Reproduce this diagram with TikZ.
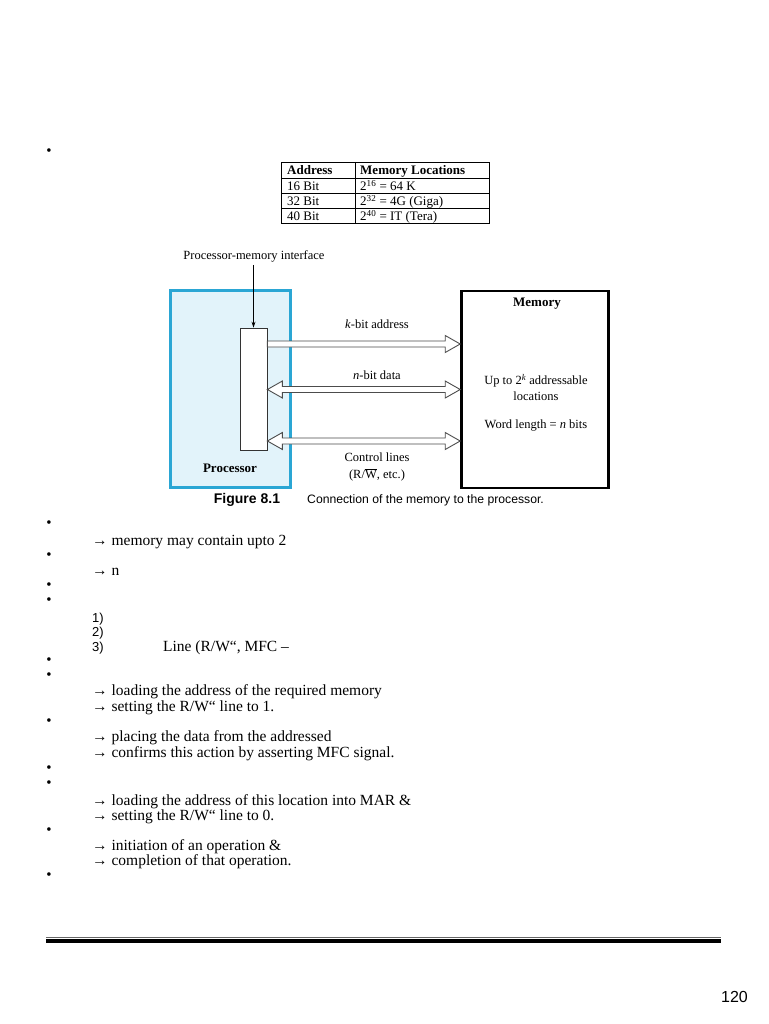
\documentclass[tikz,border=0pt]{standalone}
\usepackage{fontspec}
\setmainfont{Liberation Serif}
\newfontfamily\arialf{Liberation Sans}
\usetikzlibrary{calc,arrows.meta}
\definecolor{procblue}{HTML}{2AA6D4}
\definecolor{proclight}{HTML}{E2F3FA}
\newcommand{\hollowone}[3]{%
\draw[hol] ($(#1.east |- 0,#3)+(0,-3)$) -- ($(#2.west |- 0,#3)+(-15,-3)$) -- ($(#2.west |- 0,#3)+(-15,-8.5)$) -- (#2.west |- 0,#3) -- ($(#2.west |- 0,#3)+(-15,8.5)$) -- ($(#2.west |- 0,#3)+(-15,3)$) -- ($(#1.east |- 0,#3)+(0,3)$) -- cycle;}
\newcommand{\hollowtwo}[3]{%
\draw[hol] (#1.east |- 0,#3) -- ($(#1.east |- 0,#3)+(15,-8.5)$) -- ($(#1.east |- 0,#3)+(15,-3)$) -- ($(#2.west |- 0,#3)+(-15,-3)$) -- ($(#2.west |- 0,#3)+(-15,-8.5)$) -- (#2.west |- 0,#3) -- ($(#2.west |- 0,#3)+(-15,8.5)$) -- ($(#2.west |- 0,#3)+(-15,3)$) -- ($(#1.east |- 0,#3)+(15,3)$) -- ($(#1.east |- 0,#3)+(15,8.5)$) -- cycle;}
\begin{document}
\begin{tikzpicture}[x=1pt,y=-1pt,
  body/.style={anchor=base west,inner sep=0,font=\fontsize{15.5}{18}\selectfont},
  num/.style={anchor=base west,inner sep=0,font=\arialf\fontsize{13}{15}\selectfont},
  bul/.style={inner sep=0,font=\fontsize{15}{16}\selectfont},
  tab/.style={anchor=base west,inner sep=0,font=\fontsize{13}{15}\selectfont},
  tabh/.style={tab,font=\bfseries\fontsize{13}{15}\selectfont},
  fig/.style={inner sep=0,font=\fontsize{12.5}{15}\selectfont},
  figb/.style={inner sep=0,font=\bfseries\fontsize{13}{15}\selectfont},
  procbox/.style={draw=procblue,line width=3pt,fill=proclight,inner sep=0},
  ifbox/.style={draw=black!80,fill=white,line width=0.8pt,inner sep=0},
  membox/.style={draw=black,line width=2.6pt,fill=white,inner sep=0},
  hol/.style={draw=black!70,fill=white,line width=0.9pt,line join=miter},
  tline/.style={line width=0.9pt,black}
]
\useasboundingbox (0,0) rectangle (768,1024);
\fill[white] (0,0) rectangle (768,1024);

% first bullet
\node[bul] (b0) at (49,152) {•};

% table
\draw[tline] (281,162) rectangle (489,223);
\draw[tline] (355,162) -- (355,223);
\draw[tline] (281,178) -- (489,178);
\draw[tline] (281,193) -- (489,193);
\draw[tline] (281,208) -- (489,208);
\node[tabh] (th1) at (287,175) {Address};
\node[tabh] (th2) at (360,175) {Memory Locations};
\node[tab] (r1a) at (287,190.5) {16 Bit};
\node[tab] (r1b) at (360,190.5) {2\textsuperscript{16} = 64 K};
\node[tab] (r2a) at (287,205.5) {32 Bit};
\node[tab] (r2b) at (360,205.5) {2\textsuperscript{32} = 4G (Giga)};
\node[tab] (r3a) at (287,220.5) {40 Bit};
\node[tab] (r3b) at (360,220.5) {2\textsuperscript{40} = IT (Tera)};

% figure
\node[fig] (pmi) at (254,256) {Processor-memory interface};
\node[procbox,minimum width=120,minimum height=197] (proc) at (230,388.5) {};
\node[ifbox,minimum width=27,minimum height=122] (iface) at (253.5,389) {};
\node[membox,minimum width=147,minimum height=197] (mem) at (535,389.5) {};
\draw[-{Stealth[length=6pt,width=4pt]},line width=0.8pt] (iface.north |- pmi.south) ++(0,3) -- (iface.north);
\hollowone{iface}{mem}{344}
\hollowtwo{iface}{mem}{389.5}
\hollowtwo{iface}{mem}{441}
\node[fig] (kaddr) at (377,324) {\textit{k}-bit address};
\node[fig] (ndata) at (377,375) {\textit{n}-bit data};
\node[fig] (ctl1) at (377,457) {Control lines};
\node[fig] (ctl2) at (377,475) {(R/$\overline{\hbox{W}}$, etc.)};
\node[figb] (memt) at (537,304) {Memory};
\node[fig] (up1) at (536,381) {Up to 2\textsuperscript{\textit{k}} addressable};
\node[fig] (up2) at (536,396) {locations};
\node[fig] (wl) at (536,426) {Word length = \textit{n} bits};
\node[figb] (proct) at (230,468) {Processor};
\node[inner sep=0,font=\arialf\bfseries\fontsize{14}{16}\selectfont] (figno) at (247,500) {Figure 8.1};
\node[anchor=west,inner sep=0,font=\arialf\fontsize{12.2}{14}\selectfont] (figcap) at (307,500) {Connection of the memory to the processor.};

% body text
\node[bul] (b1) at (49,524) {•};
\node[body] (t1) at (92,545.5) {→ memory may contain upto 2};
\node[bul] (b2) at (49,556) {•};
\node[body] (t2) at (92,575.5) {→ n};
\node[bul] (b3) at (49,586) {•};
\node[bul] (b4) at (49,601) {•};
\node[num] (n1) at (92,622) {1)};
\node[num] (n2) at (92,636.5) {2)};
\node[num] (n3) at (92,651) {3)};
\node[body] (t3) at (163,651) {Line (R/W“, MFC –};
\node[bul] (b5) at (49,661) {•};
\node[bul] (b6) at (49,676) {•};
\node[body] (t4) at (92,695.5) {→ loading the address of the required memory};
\node[body] (t5) at (92,711.5) {→ setting the R/W“ line to 1.};
\node[bul] (b7) at (49,722) {•};
\node[body] (t6) at (92,741.5) {→ placing the data from the addressed};
\node[body] (t7) at (92,757) {→ confirms this action by asserting MFC signal.};
\node[bul] (b8) at (49,769) {•};
\node[bul] (b9) at (49,784) {•};
\node[body] (t8) at (92,805) {→ loading the address of this location into MAR \&};
\node[body] (t9) at (92,820) {→ setting the R/W“ line to 0.};
\node[bul] (b10) at (49,831) {•};
\node[body] (t10) at (92,850) {→ initiation of an operation \&};
\node[body] (t11) at (92,865.5) {→ completion of that operation.};
\node[bul] (b11) at (49,876) {•};

% footer rule
\draw[line width=0.8pt,black!60] (46,937.3) -- (721,937.3);
\draw[line width=3.6pt,black] (46,941) -- (721,941);
\node[anchor=base east,inner sep=0,font=\arialf\fontsize{16}{18}\selectfont] (pg) at (748,1002) {120};
\end{tikzpicture}
\end{document}
